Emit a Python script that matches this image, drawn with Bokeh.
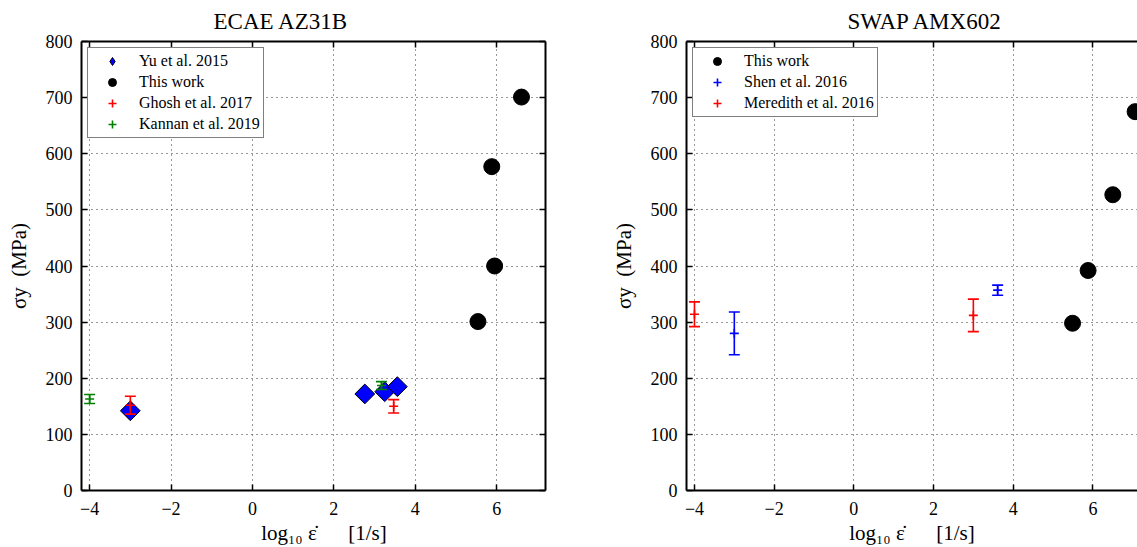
from bokeh.plotting import figure
from bokeh.layouts import row
from bokeh.models import (Range1d, LinearAxis, FixedTicker, Legend, LegendItem,
                          CustomLabelingPolicy)
from bokeh.embed import file_html
from bokeh.resources import INLINE

FONT = "Liberation Serif"

# ---------------- data: ECAE AZ31B ----------------
yu_x = [-3.0, 2.76, 3.25, 3.56]
yu_y = [142, 172, 176, 185]
work1_x = [5.54, 5.95, 5.88, 6.61]
work1_y = [301, 400, 577, 701]
ghosh_x = [-3.0, 3.47]
ghosh_y = [152, 150]
ghosh_err = [16, 12]
kannan_x = [-4.0, 3.17]
kannan_y = [163, 187]
kannan_err = [8, 7]

# ---------------- data: SWAP AMX602 ----------------
work2_x = [5.49, 5.88, 6.50, 7.06]
work2_y = [298, 392, 527, 675]
shen_x = [-3.0, 3.61]
shen_y = [280, 357]
shen_err = [38, 9]
mered_x = [-4.0, 3.0]
mered_y = [314, 312]
mered_err = [22, 29]

x_ticks = [-4, -2, 0, 2, 4, 6]
y_ticks = [0, 100, 200, 300, 400, 500, 600, 700, 800]
x_tick_labels = {-4: "\u22124", -2: "\u22122", 0: "0", 2: "2", 4: "4", 6: "6"}
x_label = "log\u2081\u2080 \u03b5\u0307\u2003\u2002[1/s]"
y_label = "\u03c3y\u2002(MPa)"

HIDE = CustomLabelingPolicy(code="""
try {
  const arr = Array.from(indices)
  for (const i of arr) indices.unset(i)
} catch (e) {}
return indices
""")


def tick_style(ax):
    ax.axis_line_width = 2
    ax.axis_line_color = "black"
    ax.major_tick_in = 6
    ax.major_tick_out = 0
    ax.major_tick_line_width = 1.5
    ax.minor_tick_in = 0
    ax.minor_tick_out = 0


def make_fig(width, b_left, b_right, b_top, b_bottom, xmax, title, title_offset,
             right_axis, xlabel):
    p = figure(width=width, height=547, output_backend="svg", toolbar_location=None,
               x_range=Range1d(-4.2, xmax), y_range=Range1d(0, 800),
               min_border_left=b_left, min_border_right=b_right,
               min_border_top=b_top, min_border_bottom=b_bottom)
    p.outline_line_color = None
    p.background_fill_color = "white"
    p.border_fill_color = "white"

    p.title.text = title
    p.title.align = "left"
    p.title.offset = title_offset
    p.title.standoff = 8
    p.title.text_font = FONT
    p.title.text_font_size = "23px"
    p.title.text_font_style = "normal"
    p.title.text_color = "black"

    xa = p.xaxis[0]
    ya = p.yaxis[0]
    xa.ticker = FixedTicker(ticks=x_ticks)
    ya.ticker = FixedTicker(ticks=y_ticks)
    xa.major_label_overrides = x_tick_labels
    for ax in (xa, ya):
        tick_style(ax)
        ax.major_label_text_font = FONT
        ax.major_label_text_font_size = "18px"
        ax.major_label_text_color = "black"
        ax.axis_label_text_font = FONT
        ax.axis_label_text_font_style = "normal"
        ax.axis_label_text_font_size = "21px"
        ax.axis_label_text_color = "black"
    xa.major_label_standoff = 11
    xa.axis_label = xlabel
    xa.axis_label_standoff = 3
    xa.axis_label_text_line_height = 0.7
    ya.major_label_standoff = 9
    ya.axis_label = y_label
    ya.axis_label_standoff = 12

    extra = [("above", x_ticks)]
    if right_axis:
        extra.append(("right", y_ticks))
    for side, ticks in extra:
        ax = LinearAxis(ticker=FixedTicker(ticks=ticks))
        tick_style(ax)
        ax.major_label_text_font_size = "1px"
        ax.major_label_standoff = 0
        ax.major_label_policy = HIDE
        p.add_layout(ax, side)

    for g in (p.xgrid[0], p.ygrid[0]):
        g.grid_line_color = "black"
        g.grid_line_alpha = 0.8
        g.grid_line_width = 1
        g.grid_line_dash = "1 4"
    p.xgrid[0].ticker = FixedTicker(ticks=x_ticks)
    p.ygrid[0].ticker = FixedTicker(ticks=y_ticks)
    return p


def errorbar(p, xs, ys, errs, color):
    lo = [y - e for y, e in zip(ys, errs)]
    hi = [y + e for y, e in zip(ys, errs)]
    p.segment(x0=xs, y0=lo, x1=xs, y1=hi, line_color=color, line_width=1.6)
    p.scatter(x=xs + xs, y=lo + hi, marker="dash", size=11, line_color=color, line_width=1.6)
    c = p.scatter(x=xs, y=ys, marker="cross", size=9, line_color=color, line_width=1.6)
    return [c]


def add_legend(p, items):
    lg = Legend(items=[LegendItem(label=lab, renderers=r) for lab, r in items],
                location="top_left", margin=6, padding=3, spacing=1,
                glyph_width=42, glyph_height=20, label_standoff=6,
                label_text_font=FONT, label_text_font_size="16px",
                label_text_color="black",
                border_line_color="black", border_line_width=1.5,
                background_fill_color="white", background_fill_alpha=1.0,
                inactive_fill_alpha=0.0)
    p.add_layout(lg)


# ---------------- left figure ----------------
p1 = make_fig(608, 81, 63, 41, 53, 7.2, "ECAE AZ31B", 132, True, "\u2003" + x_label)
p1.scatter(x=yu_x, y=yu_y, marker="square", angle=0.7854, size=14,
           fill_color="#0000ff", line_color="black", line_width=1)
# legend swatch for the rotated squares (legend glyphs are drawn unrotated)
r_yu = p1.scatter(x=yu_x, y=yu_y, marker="diamond", size=14, visible=False,
                  fill_color="#0000ff", line_color="black", line_width=1)
r_w1 = p1.scatter(x=work1_x, y=work1_y, marker="circle", size=16,
                  fill_color="black", line_color="black")
r_gh = errorbar(p1, ghosh_x, ghosh_y, ghosh_err, "#ff0000")
r_ka = errorbar(p1, kannan_x, kannan_y, kannan_err, "#008000")
add_legend(p1, [("Yu et al. 2015", [r_yu]), ("This work", [r_w1]),
                ("Ghosh et al. 2017", r_gh), ("Kannan et al. 2019", r_ka)])

# ---------------- right figure ----------------
p2 = make_fig(529, 73, 0, 40, 57, 7.12, "SWAP AMX602", 161, False, x_label)
r_w2 = p2.scatter(x=work2_x, y=work2_y, marker="circle", size=16,
                  fill_color="black", line_color="black")
r_sh = errorbar(p2, shen_x, shen_y, shen_err, "#0000ff")
r_me = errorbar(p2, mered_x, mered_y, mered_err, "#ff0000")
add_legend(p2, [("This work", [r_w2]), ("Shen et al. 2016", r_sh),
                ("Meredith et al. 2016", r_me)])

layout = row(p1, p2, spacing=0)
open("out.html", "w").write(file_html(layout, INLINE))
